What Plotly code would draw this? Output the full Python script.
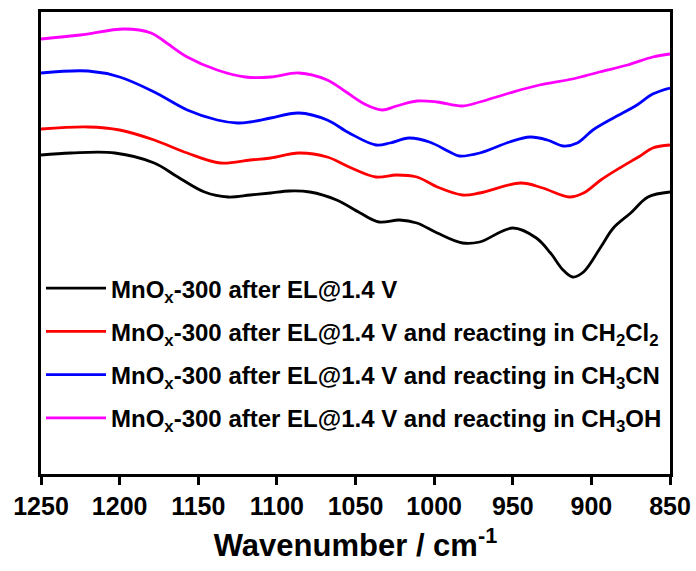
import plotly.graph_objects as go

# Wavenumber (cm^-1) and relative intensity (a.u.)
wn_magenta = [1250, 1225, 1197, 1180, 1171, 1157, 1138, 1120, 1104, 1086, 1068, 1056, 1043, 1033, 1024,
              1011, 998, 982, 971, 952, 933, 912, 895, 877, 861, 850]
y_magenta = [435, 439, 445, 441, 432, 417, 404, 397, 397, 401, 394, 382, 369, 364, 368,
             373, 372, 368, 372, 381, 389, 395, 402, 409, 417, 420]

wn_blue = [1250, 1220, 1200, 1178, 1157, 1138, 1125, 1117, 1104, 1086, 1068, 1054, 1037, 1028, 1016,
           1003, 990, 984, 971, 952, 939, 928, 918, 909, 899, 886, 871, 861, 850]
y_blue = [401, 403, 397, 382, 364, 354, 351, 352, 356, 361, 354, 341, 329, 331, 336,
          332, 322, 318, 321, 332, 337, 334, 328, 331, 344, 356, 369, 380, 386]

wn_red = [1250, 1220, 1200, 1178, 1157, 1136, 1117, 1104, 1086, 1068, 1054, 1037, 1024, 1011, 998,
          982, 971, 945, 931, 914, 905, 894, 882, 869, 861, 850]
y_red = [345, 347, 344, 334, 321, 311, 314, 316, 321, 317, 307, 297, 299, 297, 287,
         279, 281, 291, 286, 277, 281, 294, 306, 318, 326, 329]

wn_black = [1250, 1231, 1203, 1178, 1163, 1146, 1131, 1117, 1104, 1092, 1079, 1062, 1047, 1035, 1022,
            1011, 998, 982, 971, 950, 935, 926, 918, 912, 905, 894, 886, 875, 864, 850]
y_black = [319, 321, 321, 311, 297, 282, 277, 279, 281, 283, 282, 274, 261, 252, 254,
           251, 241, 231, 232, 246, 236, 221, 204, 197, 202, 227, 246, 261, 277, 282]

tick_values = [1250, 1200, 1150, 1100, 1050, 1000, 950, 900, 850]

names = [
    "MnO<sub>x</sub>-300 after EL@1.4 V",
    "MnO<sub>x</sub>-300 after EL@1.4 V and reacting in CH<sub>2</sub>Cl<sub>2</sub>",
    "MnO<sub>x</sub>-300 after EL@1.4 V and reacting in CH<sub>3</sub>CN",
    "MnO<sub>x</sub>-300 after EL@1.4 V and reacting in CH<sub>3</sub>OH",
]
colors = ["#000000", "#FF0000", "#0000FF", "#FF00FF"]
series = [(wn_black, y_black), (wn_red, y_red), (wn_blue, y_blue), (wn_magenta, y_magenta)]

fig = go.Figure()
for i, ((x, y), n, c) in enumerate(zip(series, names, colors)):
    fig.add_trace(go.Scatter(x=x, y=y, mode="lines", name="<b>" + n + "</b>", legendgroup=str(i),
                             line=dict(color=c, width=2.8, shape="spline", smoothing=1.0)))

font_family = "Liberation Sans, Arial, sans-serif"
fig.update_layout(
    width=696, height=571,
    margin=dict(l=41, r=26, t=12, b=97, autoexpand=False),
    paper_bgcolor="white", plot_bgcolor="white",
    font=dict(family=font_family, color="black"),
    showlegend=True,
    legend=dict(x=0.0, y=0.45, xanchor="left", yanchor="top",
                bgcolor="rgba(0,0,0,0)", borderwidth=0,
                font=dict(size=24, family=font_family, color="black"),
                tracegroupgap=9, itemwidth=60, traceorder="grouped"),
    xaxis=dict(range=[1250, 850], tickvals=tick_values,
               ticktext=["<b>%d</b>" % v for v in tick_values],
               ticks="outside", ticklen=8, tickwidth=2.5, tickcolor="black",
               showline=True, linewidth=2.5, linecolor="black", mirror=True,
               showgrid=False, zeroline=False, automargin=False,
               tickfont=dict(size=25, family=font_family, color="black"),
               title=dict(text="<b>Wavenumber / cm<sup>-1</sup></b>",
                          font=dict(size=31, family=font_family, color="black"), standoff=16)),
    yaxis=dict(range=[0, 462], showticklabels=False, ticks="",
               showline=True, linewidth=2.5, linecolor="black", mirror=True,
               showgrid=False, zeroline=False, automargin=False),
)

fig.write_html("out.html")
